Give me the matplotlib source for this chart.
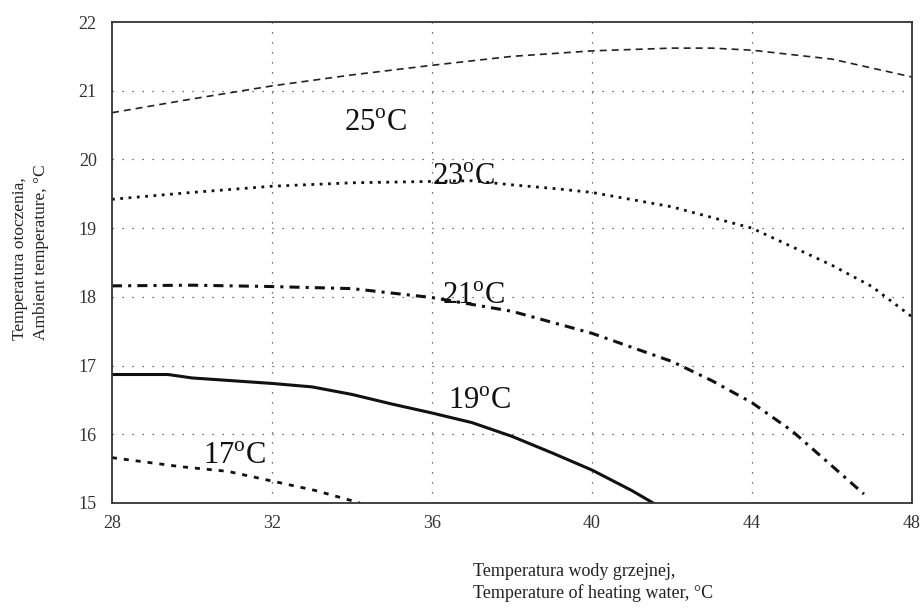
import numpy as np
import matplotlib
matplotlib.use("Agg")
import matplotlib.pyplot as plt

plt.rcParams['font.family'] = ['Liberation Serif', 'DejaVu Serif']
plt.rcParams['mathtext.fontset'] = 'custom'
plt.rcParams['mathtext.rm'] = 'Liberation Serif'

# curves: heating water temp -> ambient temp
x25 = [28, 30, 32, 34, 36, 38, 40, 42, 43, 44, 46, 47, 48]
y25 = [20.68, 20.88, 21.07, 21.23, 21.37, 21.50, 21.58, 21.62, 21.62, 21.59, 21.46, 21.33, 21.20]

x23 = [28, 30, 32, 34, 36, 37, 38, 39, 40, 42, 44, 46, 47, 48]
y23 = [19.42, 19.52, 19.61, 19.66, 19.68, 19.69, 19.63, 19.58, 19.52, 19.31, 19.00, 18.46, 18.15, 17.71]

x21 = [28, 30, 32, 34, 36, 37, 38, 40, 42, 43, 44, 45, 46, 46.8]
y21 = [18.16, 18.17, 18.15, 18.12, 17.99, 17.89, 17.79, 17.47, 17.06, 16.78, 16.46, 16.05, 15.54, 15.13]

x19 = [28, 29.4, 30, 31, 32, 33, 34, 35, 36, 37, 38, 39, 40, 41, 41.53]
y19 = [16.87, 16.87, 16.82, 16.78, 16.74, 16.69, 16.58, 16.44, 16.31, 16.17, 15.97, 15.73, 15.48, 15.18, 15.0]

x17 = [28, 29.7, 30.9, 32, 33.1, 34.2]
y17 = [15.66, 15.53, 15.46, 15.32, 15.18, 15.0]

labels = ["25", "23", "21", "19", "17"]
label_x = [34.58, 36.78, 37.03, 37.19, 31.07]
label_y = [20.53, 19.74, 18.0, 16.47, 15.68]

xticks = [28, 32, 36, 40, 44, 48]
yticks = [15, 16, 17, 18, 19, 20, 21, 22]

fig = plt.figure(figsize=(9.23, 6.08), dpi=100)
ax = fig.add_axes([0.1213, 0.1727, 0.8667, 0.7911])

ax.plot(x25, y25, color='#222222', lw=1.2, dashes=(4.2, 3))
ax.plot(x23, y23, color='#111111', lw=2.0, dashes=(1, 2))
ax.plot(x21, y21, color='#111111', lw=2.2, dashes=(3.3, 2, 1, 2))
ax.plot(x19, y19, color='#111111', lw=2.2)
ax.plot(x17, y17, color='#111111', lw=2.0, dashes=(1.8, 2.5))

for t, lx, ly in zip(labels, label_x, label_y):
    ax.text(lx, ly, t + r"$^{\rm o}$C", fontsize=22, ha='center', va='center', color='#111111')

# dotted grid
for xv in xticks[1:-1]:
    ax.axvline(xv, color='#444444', lw=0.9, dashes=(1, 7), zorder=0)
for yv in yticks[1:-1]:
    ax.axhline(yv, color='#444444', lw=0.9, dashes=(1, 7), zorder=0)

ax.set_xlim(28, 48)
ax.set_ylim(15, 22)
ax.set_xticks(xticks)
ax.set_yticks(yticks)
ax.tick_params(length=0, labelsize=13, colors='#333333')
ax.tick_params(axis='y', pad=11)
ax.tick_params(axis='x', pad=9)
for s in ax.spines.values():
    s.set_color('#333333')
    s.set_linewidth(1.3)

fig.text(0.013, 0.585, "Temperatura otoczenia,\nAmbient temperature, °C",
         rotation=90, fontsize=12.5, ha='left', va='center', ma='left',
         color='#222222', linespacing=1.45)
fig.text(0.5125, 0.074, "Temperatura wody grzejnej,\nTemperature of heating water, °C",
         fontsize=13, ha='left', va='top', ma='left', color='#222222', linespacing=1.3)

plt.savefig("out.png", dpi=100)
